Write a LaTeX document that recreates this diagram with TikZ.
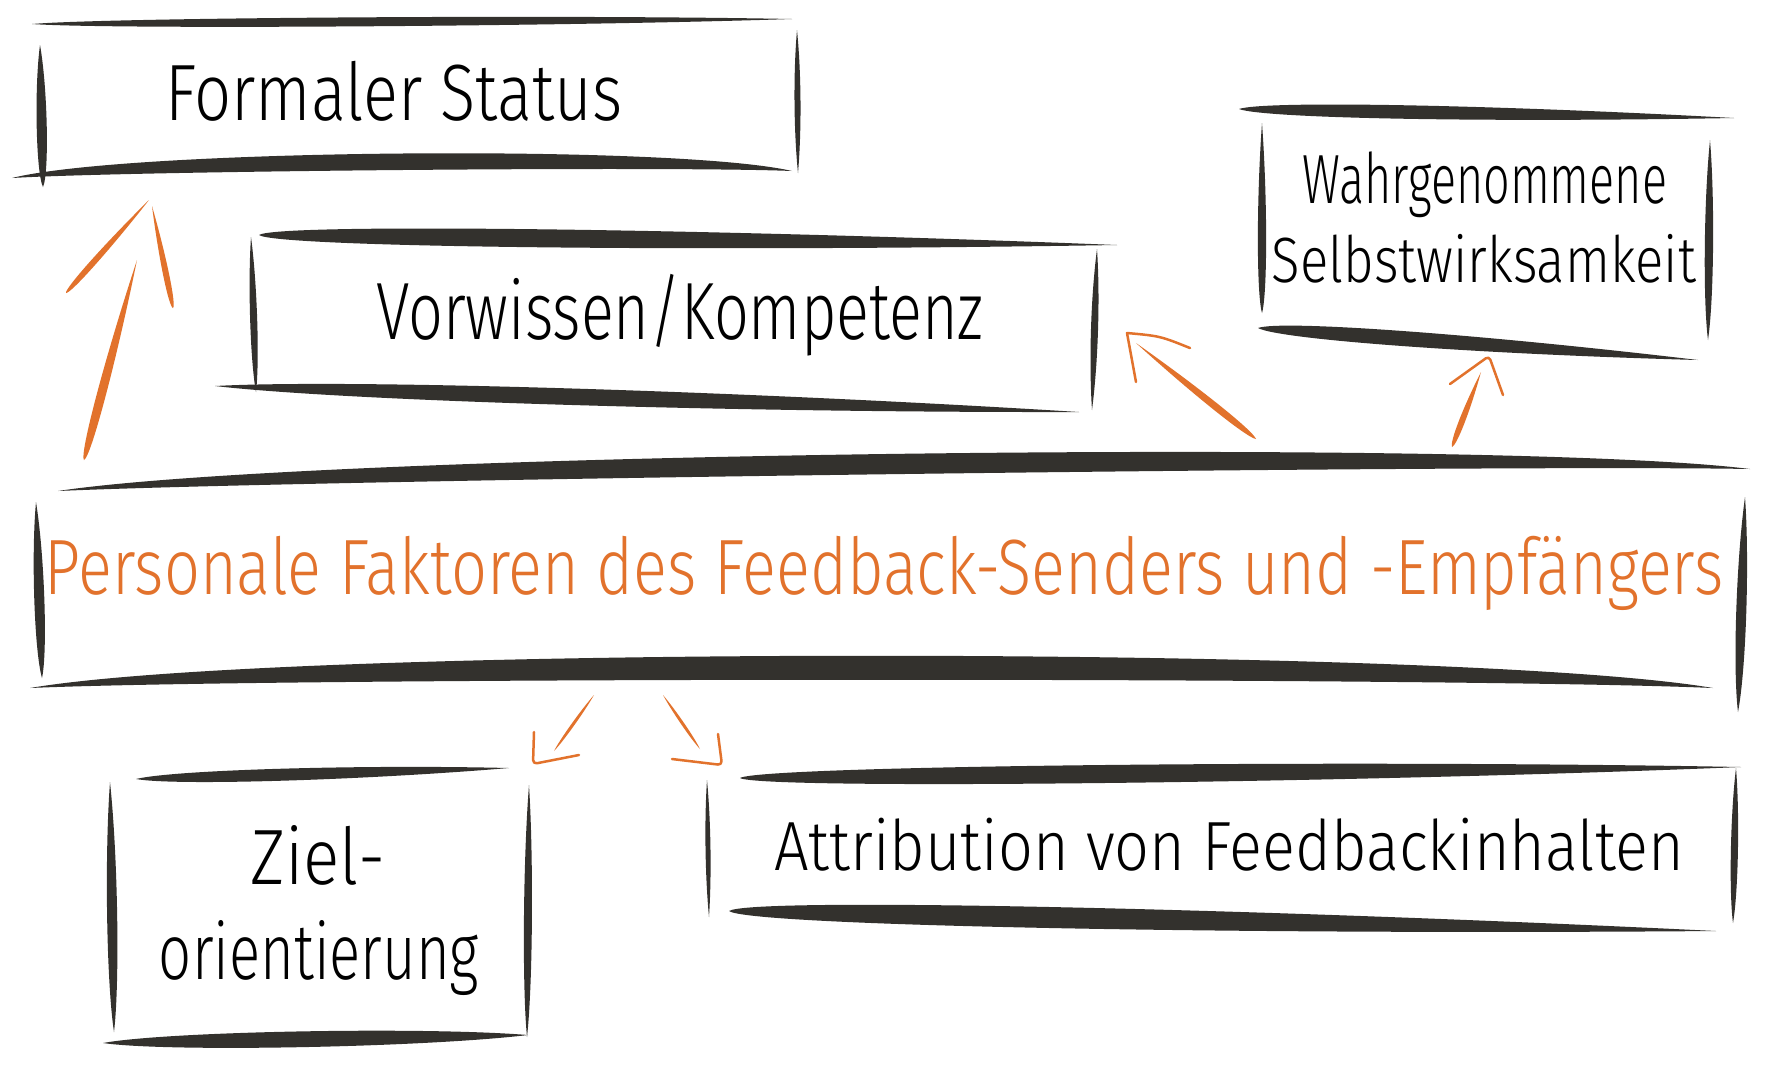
\documentclass[tikz,border=0pt]{standalone}
\usepackage{fontspec}
\setmainfont{Fira Sans Light}
\usepackage{graphicx}
\usetikzlibrary{calc}
\definecolor{ink}{RGB}{51,49,45}
\definecolor{ora}{RGB}{226,114,44}
\def\tk{1}
% tapered brush stroke: [colour]{A}{B}{up}{down}{p}{q}
\newcommand\brush[7][ink]{%
 \fill[#1] (#2) .. controls ($(#2)!#6!(#3)!#4*\tk*0.01cm!90:(#3)$) and ($(#2)!#7!(#3)!#4*\tk*0.01cm!90:(#3)$) .. (#3)
   .. controls ($(#2)!#7!(#3)!#5*\tk*0.01cm!-90:(#3)$) and ($(#2)!#6!(#3)!#5*\tk*0.01cm!-90:(#3)$) .. (#2) -- cycle;}
\newcommand\fitw[2]{\resizebox{#1}{\height}{#2}}
\newcommand\fsz[1]{\fontsize{#1pt}{1.2em}\selectfont}
\begin{document}
\begin{tikzpicture}[x=0.01cm,y=-0.01cm,
  txt/.style={inner sep=0pt, anchor=base, text=black},
  otxt/.style={inner sep=0pt, anchor=base, text=ora},
  ahead/.style={draw=ora, line width=0.025cm, line cap=round, line join=round, rounded corners=0.04cm}]
\fill[white] (0,0) rectangle (1772,1066);
\useasboundingbox (0,0) rectangle (1772,1066);

% ---- Formaler Status
\brush{32,24}{792,19}{6}{6}{0.1}{0.7}
\brush{40,45}{43,187}{6.7}{6.7}{0.3}{0.9}
\brush{797,30}{798,173}{4}{4}{0.3}{0.7}
\brush{12,178}{792,171}{28}{-6}{0.15}{0.85}
\node[txt] (formal) at (394,120) {\fsz{22.7}\fitw{4.57cm}{Formaler Status}};

% ---- Vorwissen/Kompetenz
\brush{259,235}{1117,245}{12}{12}{0.02}{0.5}
\brush{251,237}{256,392}{4.7}{4.7}{0.3}{0.8}
\brush{1097,249}{1092,410}{4.7}{4.7}{0.3}{0.7}
\brush{215,386}{1079,412}{11}{11}{0.15}{0.6}
\node[txt] (vorw) at (680,339) {\fsz{23.1}\fitw{6.07cm}{Vorwissen/Kompetenz}};

% ---- Wahrgenommene Selbstwirksamkeit
\brush{1239,109}{1734,118}{9}{9}{0.05}{0.5}
\brush{1262,123}{1262,313}{5.5}{5.5}{0.4}{0.9}
\brush{1710,140}{1708,340}{5.5}{5.5}{0.3}{0.8}
\brush{1258,328}{1698,360}{10}{10}{0.05}{0.5}
\node[txt] (wahr1) at (1485,203) {\fsz{19.8}\fitw{3.64cm}{Wahrgenommene}};
\node[txt] (wahr2) at (1484,282) {\fsz{18.2}\fitw{4.24cm}{Selbstwirksamkeit}};

% ---- Personale Faktoren
\brush{58,491}{1750,469}{35}{-8}{0.15}{0.85}
\brush{36,502}{42,678}{6.7}{6.7}{0.3}{0.85}
\brush{1745,497}{1738,712}{6.7}{6.7}{0.3}{0.8}
\brush{30,688}{1713,688}{43}{-11}{0.15}{0.85}
\node[otxt] (pers) at (884,594) {\fsz{22.3}\fitw{16.78cm}{Personale Faktoren des Feedback-Senders und -Empfängers}};

% ---- Zielorientierung
\brush{136,779}{509,768}{8}{8}{0.1}{0.6}
\brush{110,782}{114,1032}{6.7}{6.7}{0.3}{0.8}
\brush{529,785}{527,1037}{5.3}{5.3}{0.3}{0.8}
\brush{103,1043}{528,1035}{10.5}{10.5}{0.15}{0.75}
\node[txt] (ziel1) at (318,884) {\fsz{22.3}\fitw{1.35cm}{Ziel-}};
\node[txt] (ziel2) at (319,979) {\fsz{22.3}\fitw{3.2cm}{orientierung}};

% ---- Attribution
\brush{740,778}{1741,767}{12}{12}{0.02}{0.6}
\brush{707,780}{709,917}{3.3}{3.3}{0.3}{0.7}
\brush{1736,768}{1733,923}{4.7}{4.7}{0.3}{0.8}
\brush{729,911}{1716,931}{14}{14}{0.02}{0.5}
\node[txt] (attr) at (1229,870) {\fsz{19.8}\fitw{9.09cm}{Attribution von Feedbackinhalten}};

% ---- arrows
\coordinate (a1s) at (84,460);  \coordinate (a1e) at (137,260);
\coordinate (a1l) at (66,293);  \coordinate (a1t) at (149,200);
\coordinate (a1r) at (173,308); \coordinate (a1u) at (152,206);
\brush[ora]{a1s}{a1e}{6}{6}{0.02}{0.5}
\brush[ora]{a1l}{a1t}{4}{4}{0.02}{0.5}
\brush[ora]{a1r}{a1u}{4}{4}{0.02}{0.5}

\coordinate (a2s) at (1256,439); \coordinate (a2e) at (1136,343);
\coordinate (a2l) at (1136,382); \coordinate (a2t) at (1127,333); \coordinate (a2r) at (1190,348);
\brush[ora]{a2s}{a2e}{4.7}{4.7}{0.05}{0.5}
\draw[ahead, rounded corners=0pt] (a2l) -- (a2t) .. controls (1160,336) .. (a2r);

\coordinate (a3s) at (1452,447); \coordinate (a3e) at (1481,372);
\coordinate (a3l) at (1450,384); \coordinate (a3t) at (1489,356); \coordinate (a3r) at (1503,395);
\brush[ora]{a3s}{a3e}{4}{4}{0.05}{0.5}
\draw[ahead] (a3l) -- (a3t) -- (a3r);

\coordinate (a4s) at (594,695); \coordinate (a4e) at (554,751);
\coordinate (a4l) at (534,732); \coordinate (a4t) at (533,764); \coordinate (a4r) at (579,755);
\brush[ora]{a4s}{a4e}{2}{2}{0.3}{0.8}
\draw[ahead] (a4l) -- (a4t) -- (a4r);

\coordinate (a5s) at (663,695); \coordinate (a5e) at (700,749);
\coordinate (a5l) at (718,734); \coordinate (a5t) at (722,765); \coordinate (a5r) at (672,759);
\brush[ora]{a5s}{a5e}{2}{2}{0.3}{0.8}
\draw[ahead] (a5l) -- (a5t) -- (a5r);
\end{tikzpicture}
\end{document}
